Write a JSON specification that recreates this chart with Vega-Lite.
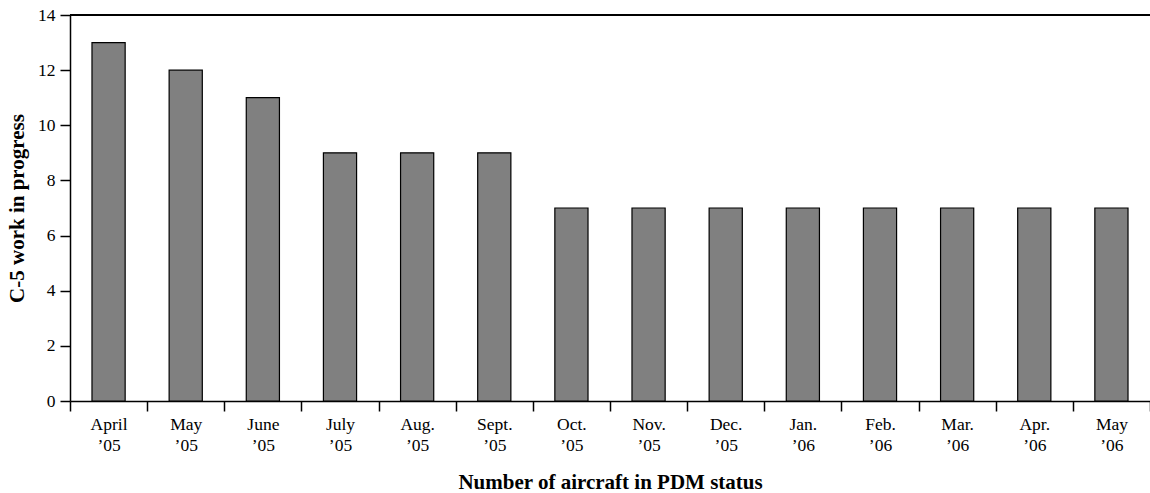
{
  "$schema": "https://vega.github.io/schema/vega-lite/v6.json",
  "autosize": "none",
  "width": 1080,
  "height": 386,
  "padding": {"left": 70, "top": 15, "right": 0, "bottom": 92},
  "background": "white",
  "config": {
    "view": {"stroke": null},
    "font": "Liberation Serif",
    "axis": {
      "labelFont": "Liberation Serif",
      "titleFont": "Liberation Serif",
      "labelFontSize": 17.5,
      "titleFontSize": 21,
      "labelColor": "black",
      "titleColor": "black",
      "domainColor": "black",
      "tickColor": "black",
      "domainWidth": 1.5,
      "tickWidth": 1.5,
      "tickSize": 10,
      "grid": false
    }
  },
  "data": {
    "values": [
      {"month": "April ’05", "wip": 13},
      {"month": "May ’05", "wip": 12},
      {"month": "June ’05", "wip": 11},
      {"month": "July ’05", "wip": 9},
      {"month": "Aug. ’05", "wip": 9},
      {"month": "Sept. ’05", "wip": 9},
      {"month": "Oct. ’05", "wip": 7},
      {"month": "Nov. ’05", "wip": 7},
      {"month": "Dec. ’05", "wip": 7},
      {"month": "Jan. ’06", "wip": 7},
      {"month": "Feb. ’06", "wip": 7},
      {"month": "Mar. ’06", "wip": 7},
      {"month": "Apr. ’06", "wip": 7},
      {"month": "May ’06", "wip": 7}
    ]
  },
  "layer": [
    {
      "mark": {"type": "bar", "fill": "#808080", "stroke": "black", "strokeWidth": 1.2, "width": {"band": 0.43}},
      "encoding": {
        "x": {
          "field": "month",
          "type": "nominal",
          "sort": null,
          "scale": {"paddingInner": 0, "paddingOuter": 0},
          "axis": {
            "title": "Number of aircraft in PDM status",
            "titleFontWeight": "bold",
            "titlePadding": 18,
            "labelAngle": 0,
            "labelExpr": "isString(datum.value) ? split(datum.value, ' ') : ''",
            "labelLineHeight": 21,
            "labelPadding": 4,
            "tickBand": "extent"
          }
        },
        "y": {
          "field": "wip",
          "type": "quantitative",
          "scale": {"domain": [0, 14], "nice": false},
          "axis": {
            "title": "C-5 work in progress",
            "titleFontWeight": "bold",
            "values": [0, 2, 4, 6, 8, 10, 12, 14],
            "labelPadding": 5,
            "titlePadding": 10
          }
        }
      }
    },
    {
      "mark": {"type": "rule", "color": "black", "strokeWidth": 1.5},
      "encoding": {"y": {"datum": 14}}
    }
  ]
}
